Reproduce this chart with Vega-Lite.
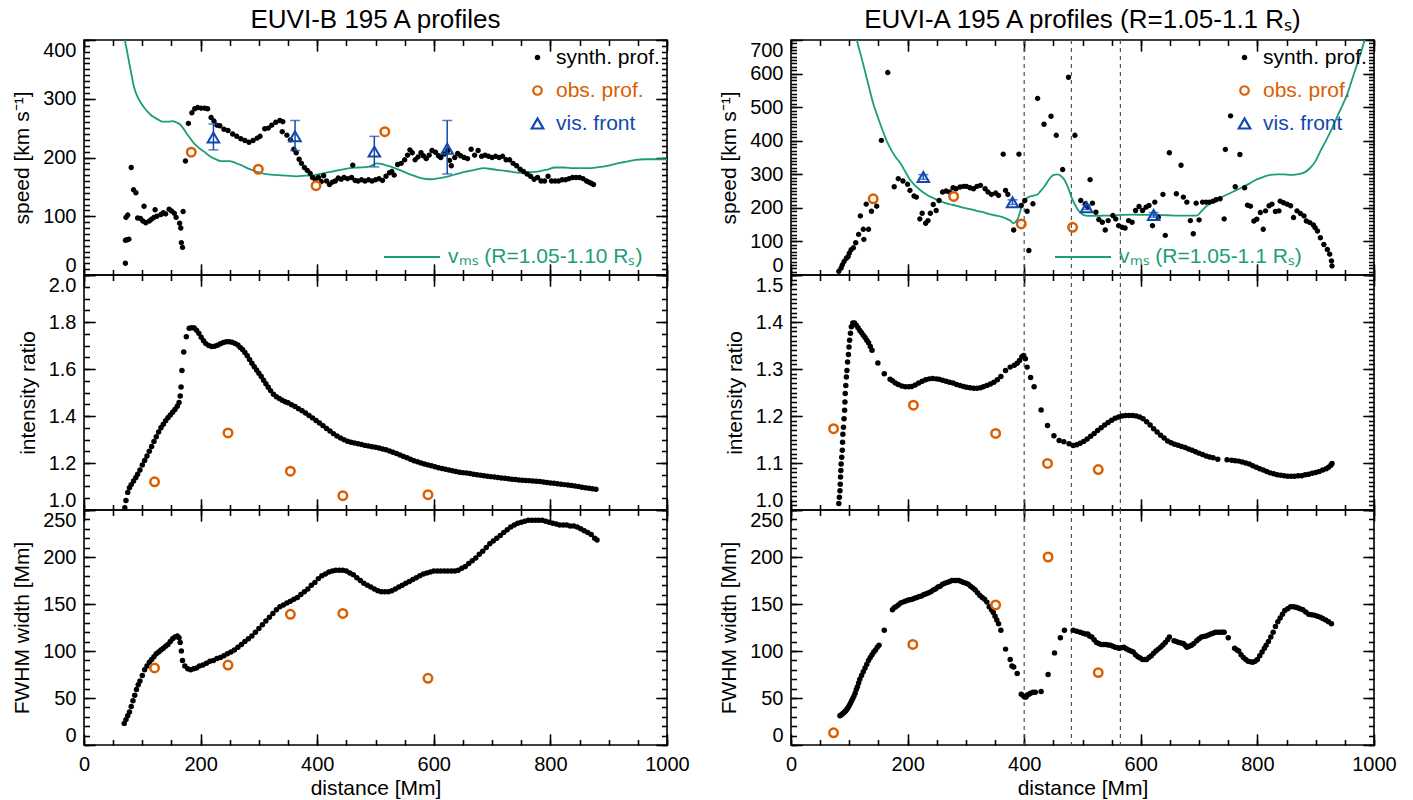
{
"$schema":"https://vega.github.io/schema/vega-lite/v6.json",
"background":"white",
"padding":{"left":10,"top":6,"right":5,"bottom":3},
"bounds":"flush",
"columns":2,
"spacing":{"row":0,"column":124},
"resolve":{"scale":{"color":"independent","fill":"independent","stroke":"independent","shape":"independent","size":"independent"},"legend":{"color":"independent","fill":"independent","stroke":"independent","shape":"independent","size":"independent"}},
"config":{
 "font":"Liberation Sans",
 "view":{"stroke":"black","strokeWidth":1.6},
 "axis":{"domain":false,"grid":false,"ticks":true,"tickOpacity":1,"zindex":1,"tickColor":"black","tickWidth":1.3,"gridColor":"black","gridWidth":1.3,"gridOpacity":1,"labelFont":"Liberation Sans","labelFontSize":20,"labelColor":"black","titleFont":"Liberation Sans","titleFontSize":21,"titleFontWeight":"normal","titleColor":"black","labelOverlap":false,"labelFlush":false},
 "legend":{"orient":"top-right","offset":7,"padding":0,"labelFont":"Liberation Sans","labelFontSize":21,"rowPadding":11,"labelOffset":8,"symbolStrokeWidth":2.2,"labelLimit":400},
 "title":{"font":"Liberation Sans","fontSize":26,"fontWeight":"normal","color":"black","offset":6,"anchor":"middle","frame":"group"}
},
"datasets":{
"bsp":[{"x":71,"y":20,"s":"synth. prof."},{"x":71,"y":59,"s":"synth. prof."},{"x":74,"y":60,"s":"synth. prof."},{"x":77,"y":61,"s":"synth. prof."},{"x":72,"y":98,"s":"synth. prof."},{"x":75,"y":102,"s":"synth. prof."},{"x":81,"y":183,"s":"synth. prof."},{"x":85,"y":145,"s":"synth. prof."},{"x":89,"y":140,"s":"synth. prof."},{"x":92,"y":97,"s":"synth. prof."},{"x":97,"y":96,"s":"synth. prof."},{"x":101,"y":92,"s":"synth. prof."},{"x":103,"y":117,"s":"synth. prof."},{"x":106,"y":89,"s":"synth. prof."},{"x":112,"y":92,"s":"synth. prof."},{"x":116,"y":95,"s":"synth. prof."},{"x":120,"y":98,"s":"synth. prof."},{"x":122,"y":111,"s":"synth. prof."},{"x":125,"y":100,"s":"synth. prof."},{"x":132,"y":103,"s":"synth. prof."},{"x":136,"y":106,"s":"synth. prof."},{"x":140,"y":104,"s":"synth. prof."},{"x":146,"y":112,"s":"synth. prof."},{"x":150,"y":109,"s":"synth. prof."},{"x":155,"y":105,"s":"synth. prof."},{"x":158,"y":98,"s":"synth. prof."},{"x":164,"y":88,"s":"synth. prof."},{"x":166,"y":80,"s":"synth. prof."},{"x":167,"y":55,"s":"synth. prof."},{"x":169,"y":47,"s":"synth. prof."},{"x":170,"y":108,"s":"synth. prof."},{"x":174,"y":194,"s":"synth. prof."},{"x":179,"y":258,"s":"synth. prof."},{"x":185,"y":276,"s":"synth. prof."},{"x":190,"y":283,"s":"synth. prof."},{"x":195,"y":285,"s":"synth. prof."},{"x":201,"y":284,"s":"synth. prof."},{"x":207,"y":284,"s":"synth. prof."},{"x":212,"y":283,"s":"synth. prof."},{"x":218,"y":268,"s":"synth. prof."},{"x":223,"y":262,"s":"synth. prof."},{"x":228,"y":255,"s":"synth. prof."},{"x":233,"y":254,"s":"synth. prof."},{"x":240,"y":248,"s":"synth. prof."},{"x":247,"y":246,"s":"synth. prof."},{"x":255,"y":240,"s":"synth. prof."},{"x":262,"y":236,"s":"synth. prof."},{"x":269,"y":232,"s":"synth. prof."},{"x":276,"y":229,"s":"synth. prof."},{"x":283,"y":226,"s":"synth. prof."},{"x":290,"y":229,"s":"synth. prof."},{"x":297,"y":233,"s":"synth. prof."},{"x":302,"y":236,"s":"synth. prof."},{"x":310,"y":249,"s":"synth. prof."},{"x":316,"y":250,"s":"synth. prof."},{"x":322,"y":255,"s":"synth. prof."},{"x":329,"y":260,"s":"synth. prof."},{"x":336,"y":263,"s":"synth. prof."},{"x":341,"y":261,"s":"synth. prof."},{"x":340,"y":244,"s":"synth. prof."},{"x":348,"y":238,"s":"synth. prof."},{"x":354,"y":230,"s":"synth. prof."},{"x":360,"y":214,"s":"synth. prof."},{"x":364,"y":208,"s":"synth. prof."},{"x":369,"y":197,"s":"synth. prof."},{"x":373,"y":190,"s":"synth. prof."},{"x":378,"y":183,"s":"synth. prof."},{"x":383,"y":178,"s":"synth. prof."},{"x":388,"y":173,"s":"synth. prof."},{"x":392,"y":166,"s":"synth. prof."},{"x":397,"y":163,"s":"synth. prof."},{"x":402,"y":166,"s":"synth. prof."},{"x":407,"y":159,"s":"synth. prof."},{"x":411,"y":169,"s":"synth. prof."},{"x":416,"y":160,"s":"synth. prof."},{"x":421,"y":154,"s":"synth. prof."},{"x":426,"y":158,"s":"synth. prof."},{"x":431,"y":160,"s":"synth. prof."},{"x":436,"y":165,"s":"synth. prof."},{"x":441,"y":163,"s":"synth. prof."},{"x":446,"y":166,"s":"synth. prof."},{"x":452,"y":164,"s":"synth. prof."},{"x":459,"y":166,"s":"synth. prof."},{"x":461,"y":187,"s":"synth. prof."},{"x":465,"y":161,"s":"synth. prof."},{"x":470,"y":160,"s":"synth. prof."},{"x":476,"y":162,"s":"synth. prof."},{"x":482,"y":160,"s":"synth. prof."},{"x":488,"y":162,"s":"synth. prof."},{"x":494,"y":160,"s":"synth. prof."},{"x":500,"y":162,"s":"synth. prof."},{"x":506,"y":164,"s":"synth. prof."},{"x":512,"y":161,"s":"synth. prof."},{"x":518,"y":168,"s":"synth. prof."},{"x":524,"y":174,"s":"synth. prof."},{"x":528,"y":176,"s":"synth. prof."},{"x":532,"y":170,"s":"synth. prof."},{"x":538,"y":188,"s":"synth. prof."},{"x":544,"y":190,"s":"synth. prof."},{"x":550,"y":196,"s":"synth. prof."},{"x":555,"y":204,"s":"synth. prof."},{"x":559,"y":213,"s":"synth. prof."},{"x":563,"y":208,"s":"synth. prof."},{"x":568,"y":196,"s":"synth. prof."},{"x":573,"y":201,"s":"synth. prof."},{"x":578,"y":208,"s":"synth. prof."},{"x":582,"y":203,"s":"synth. prof."},{"x":587,"y":198,"s":"synth. prof."},{"x":592,"y":204,"s":"synth. prof."},{"x":597,"y":212,"s":"synth. prof."},{"x":603,"y":209,"s":"synth. prof."},{"x":608,"y":203,"s":"synth. prof."},{"x":612,"y":200,"s":"synth. prof."},{"x":618,"y":206,"s":"synth. prof."},{"x":624,"y":212,"s":"synth. prof."},{"x":627,"y":195,"s":"synth. prof."},{"x":630,"y":186,"s":"synth. prof."},{"x":636,"y":200,"s":"synth. prof."},{"x":641,"y":207,"s":"synth. prof."},{"x":646,"y":203,"s":"synth. prof."},{"x":652,"y":200,"s":"synth. prof."},{"x":658,"y":198,"s":"synth. prof."},{"x":664,"y":214,"s":"synth. prof."},{"x":670,"y":204,"s":"synth. prof."},{"x":676,"y":212,"s":"synth. prof."},{"x":682,"y":202,"s":"synth. prof."},{"x":688,"y":204,"s":"synth. prof."},{"x":694,"y":202,"s":"synth. prof."},{"x":700,"y":200,"s":"synth. prof."},{"x":706,"y":202,"s":"synth. prof."},{"x":712,"y":200,"s":"synth. prof."},{"x":718,"y":202,"s":"synth. prof."},{"x":724,"y":196,"s":"synth. prof."},{"x":730,"y":196,"s":"synth. prof."},{"x":736,"y":190,"s":"synth. prof."},{"x":742,"y":186,"s":"synth. prof."},{"x":748,"y":180,"s":"synth. prof."},{"x":754,"y":176,"s":"synth. prof."},{"x":760,"y":172,"s":"synth. prof."},{"x":766,"y":168,"s":"synth. prof."},{"x":772,"y":163,"s":"synth. prof."},{"x":778,"y":166,"s":"synth. prof."},{"x":784,"y":160,"s":"synth. prof."},{"x":790,"y":160,"s":"synth. prof."},{"x":796,"y":168,"s":"synth. prof."},{"x":802,"y":160,"s":"synth. prof."},{"x":808,"y":160,"s":"synth. prof."},{"x":814,"y":160,"s":"synth. prof."},{"x":820,"y":162,"s":"synth. prof."},{"x":826,"y":162,"s":"synth. prof."},{"x":832,"y":164,"s":"synth. prof."},{"x":838,"y":166,"s":"synth. prof."},{"x":844,"y":166,"s":"synth. prof."},{"x":850,"y":166,"s":"synth. prof."},{"x":856,"y":164,"s":"synth. prof."},{"x":862,"y":160,"s":"synth. prof."},{"x":866,"y":158,"s":"synth. prof."},{"x":870,"y":156,"s":"synth. prof."},{"x":874,"y":154,"s":"synth. prof."}],
"bso":[{"x":184,"y":209,"s":"obs. prof."},{"x":299,"y":180,"s":"obs. prof."},{"x":398,"y":152,"s":"obs. prof."},{"x":516,"y":244,"s":"obs. prof."}],
"bsv":[{"x":222,"y":234,"lo":213,"hi":257,"s":"vis. front"},{"x":362,"y":236,"lo":212,"hi":263,"s":"vis. front"},{"x":498,"y":210,"lo":184,"hi":236,"s":"vis. front"},{"x":623,"y":215,"lo":172,"hi":263,"s":"vis. front"}],
"bsm":[{"x":70,"y":400},{"x":74,"y":380},{"x":78,"y":359},{"x":82,"y":338},{"x":86,"y":319},{"x":91,"y":305},{"x":97,"y":294},{"x":103,"y":285},{"x":109,"y":278},{"x":115,"y":272},{"x":121,"y":268},{"x":128,"y":264},{"x":134,"y":261},{"x":140,"y":261},{"x":146,"y":261},{"x":152,"y":262},{"x":158,"y":260},{"x":164,"y":257},{"x":170,"y":250},{"x":176,"y":241},{"x":182,"y":233},{"x":188,"y":225},{"x":194,"y":219},{"x":200,"y":214},{"x":206,"y":210},{"x":212,"y":205},{"x":218,"y":201},{"x":226,"y":197},{"x":234,"y":194},{"x":242,"y":194},{"x":250,"y":194},{"x":257,"y":192},{"x":264,"y":189},{"x":272,"y":186},{"x":280,"y":182},{"x":288,"y":179},{"x":295,"y":176},{"x":303,"y":174},{"x":310,"y":172},{"x":320,"y":171},{"x":333,"y":170},{"x":348,"y":169},{"x":364,"y":168},{"x":380,"y":169},{"x":395,"y":170},{"x":410,"y":173},{"x":425,"y":176},{"x":440,"y":179},{"x":456,"y":182},{"x":472,"y":183},{"x":487,"y":184},{"x":495,"y":187},{"x":502,"y":190},{"x":510,"y":189},{"x":517,"y":187},{"x":525,"y":185},{"x":533,"y":182},{"x":548,"y":176},{"x":563,"y":170},{"x":578,"y":165},{"x":594,"y":163},{"x":610,"y":165},{"x":625,"y":168},{"x":640,"y":172},{"x":655,"y":176},{"x":670,"y":179},{"x":686,"y":182},{"x":700,"y":180},{"x":716,"y":178},{"x":732,"y":176},{"x":747,"y":174},{"x":762,"y":175},{"x":778,"y":176},{"x":793,"y":179},{"x":808,"y":183},{"x":824,"y":183},{"x":839,"y":182},{"x":855,"y":182},{"x":870,"y":182},{"x":885,"y":184},{"x":900,"y":186},{"x":915,"y":190},{"x":931,"y":193},{"x":946,"y":196},{"x":962,"y":197},{"x":977,"y":197},{"x":992,"y":197},{"x":1000,"y":197}],
"bis":[{"x":70,"y":1.01},{"x":72,"y":1.04},{"x":75,"y":1.075},{"x":78,"y":1.095},{"x":81,"y":1.108},{"x":85,"y":1.123},{"x":89,"y":1.138},{"x":92,"y":1.152},{"x":96,"y":1.17},{"x":100,"y":1.192},{"x":104,"y":1.211},{"x":108,"y":1.23},{"x":112,"y":1.25},{"x":116,"y":1.27},{"x":120,"y":1.292},{"x":124,"y":1.312},{"x":128,"y":1.332},{"x":132,"y":1.35},{"x":136,"y":1.365},{"x":140,"y":1.38},{"x":144,"y":1.393},{"x":148,"y":1.404},{"x":152,"y":1.416},{"x":156,"y":1.428},{"x":160,"y":1.442},{"x":163,"y":1.457},{"x":165,"y":1.485},{"x":166.5,"y":1.523},{"x":168,"y":1.594},{"x":171,"y":1.672},{"x":175.5,"y":1.737},{"x":180.5,"y":1.773},{"x":185,"y":1.776},{"x":189,"y":1.774},{"x":193,"y":1.765},{"x":197,"y":1.752},{"x":201,"y":1.735},{"x":205,"y":1.72},{"x":209,"y":1.708},{"x":214,"y":1.7},{"x":219,"y":1.696},{"x":224,"y":1.697},{"x":229,"y":1.701},{"x":234,"y":1.707},{"x":239,"y":1.713},{"x":244,"y":1.716},{"x":249,"y":1.716},{"x":254,"y":1.714},{"x":259,"y":1.709},{"x":264,"y":1.702},{"x":268,"y":1.692},{"x":272,"y":1.683},{"x":276,"y":1.67},{"x":280,"y":1.656},{"x":284,"y":1.64},{"x":288,"y":1.624},{"x":292,"y":1.61},{"x":296,"y":1.596},{"x":300,"y":1.582},{"x":304,"y":1.568},{"x":308,"y":1.552},{"x":312,"y":1.537},{"x":316,"y":1.522},{"x":320,"y":1.508},{"x":325,"y":1.493},{"x":330,"y":1.482},{"x":335,"y":1.474},{"x":340,"y":1.467},{"x":345,"y":1.461},{"x":350,"y":1.456},{"x":356,"y":1.448},{"x":362,"y":1.44},{"x":368,"y":1.431},{"x":374,"y":1.422},{"x":380,"y":1.413},{"x":386,"y":1.402},{"x":392,"y":1.392},{"x":398,"y":1.381},{"x":404,"y":1.37},{"x":410,"y":1.359},{"x":416,"y":1.347},{"x":422,"y":1.336},{"x":428,"y":1.325},{"x":434,"y":1.315},{"x":440,"y":1.306},{"x":446,"y":1.299},{"x":452,"y":1.293},{"x":458,"y":1.288},{"x":464,"y":1.285},{"x":470,"y":1.282},{"x":476,"y":1.279},{"x":482,"y":1.275},{"x":488,"y":1.272},{"x":494,"y":1.269},{"x":500,"y":1.267},{"x":506,"y":1.264},{"x":512,"y":1.26},{"x":518,"y":1.256},{"x":524,"y":1.251},{"x":530,"y":1.246},{"x":536,"y":1.24},{"x":542,"y":1.234},{"x":548,"y":1.228},{"x":554,"y":1.222},{"x":560,"y":1.216},{"x":566,"y":1.21},{"x":572,"y":1.205},{"x":578,"y":1.2},{"x":584,"y":1.196},{"x":590,"y":1.192},{"x":596,"y":1.188},{"x":602,"y":1.184},{"x":608,"y":1.18},{"x":614,"y":1.177},{"x":620,"y":1.173},{"x":626,"y":1.17},{"x":632,"y":1.167},{"x":638,"y":1.164},{"x":644,"y":1.161},{"x":650,"y":1.159},{"x":656,"y":1.157},{"x":662,"y":1.155},{"x":668,"y":1.152},{"x":674,"y":1.15},{"x":680,"y":1.148},{"x":686,"y":1.146},{"x":692,"y":1.144},{"x":698,"y":1.142},{"x":704,"y":1.14},{"x":710,"y":1.138},{"x":716,"y":1.136},{"x":722,"y":1.135},{"x":728,"y":1.133},{"x":734,"y":1.131},{"x":740,"y":1.13},{"x":746,"y":1.128},{"x":752,"y":1.127},{"x":758,"y":1.126},{"x":764,"y":1.125},{"x":770,"y":1.123},{"x":776,"y":1.122},{"x":782,"y":1.121},{"x":788,"y":1.119},{"x":794,"y":1.117},{"x":800,"y":1.115},{"x":806,"y":1.114},{"x":812,"y":1.112},{"x":818,"y":1.11},{"x":824,"y":1.108},{"x":830,"y":1.106},{"x":836,"y":1.104},{"x":842,"y":1.102},{"x":848,"y":1.1},{"x":854,"y":1.097},{"x":860,"y":1.095},{"x":866,"y":1.093},{"x":872,"y":1.09},{"x":878,"y":1.088}],
"bio":[{"x":121,"y":1.12},{"x":247,"y":1.328},{"x":354,"y":1.165},{"x":444,"y":1.061},{"x":590,"y":1.065}],
"bws":[{"x":69,"y":23},{"x":72,"y":27},{"x":75,"y":31},{"x":78,"y":35},{"x":81,"y":41},{"x":84,"y":47},{"x":87,"y":53},{"x":90,"y":59},{"x":93,"y":64},{"x":96,"y":68},{"x":100,"y":74},{"x":104,"y":80},{"x":108,"y":84},{"x":112,"y":88},{"x":116,"y":91},{"x":120,"y":94},{"x":124,"y":97},{"x":128,"y":99},{"x":132,"y":101},{"x":136,"y":103},{"x":140,"y":105},{"x":144,"y":107},{"x":148,"y":110},{"x":152,"y":113},{"x":156,"y":115},{"x":160,"y":116},{"x":163,"y":114},{"x":165,"y":109},{"x":167,"y":100},{"x":169,"y":90},{"x":173,"y":84},{"x":178,"y":81},{"x":183,"y":80},{"x":188,"y":81},{"x":193,"y":82},{"x":198,"y":84},{"x":204,"y":85},{"x":210,"y":87},{"x":216,"y":89},{"x":222,"y":90},{"x":228,"y":92},{"x":234,"y":93},{"x":240,"y":95},{"x":246,"y":97},{"x":252,"y":99},{"x":258,"y":101},{"x":264,"y":104},{"x":270,"y":107},{"x":276,"y":110},{"x":282,"y":113},{"x":288,"y":116},{"x":294,"y":120},{"x":300,"y":124},{"x":306,"y":128},{"x":312,"y":132},{"x":318,"y":136},{"x":324,"y":140},{"x":330,"y":144},{"x":336,"y":147},{"x":342,"y":149},{"x":348,"y":151},{"x":354,"y":153},{"x":360,"y":155},{"x":366,"y":157},{"x":372,"y":160},{"x":378,"y":163},{"x":384,"y":166},{"x":390,"y":170},{"x":396,"y":173},{"x":402,"y":177},{"x":408,"y":180},{"x":414,"y":182},{"x":420,"y":184},{"x":426,"y":185},{"x":432,"y":186},{"x":438,"y":186},{"x":444,"y":186},{"x":450,"y":185},{"x":456,"y":183},{"x":462,"y":181},{"x":468,"y":178},{"x":474,"y":175},{"x":480,"y":172},{"x":486,"y":170},{"x":492,"y":168},{"x":498,"y":166},{"x":504,"y":164},{"x":510,"y":163},{"x":516,"y":163},{"x":522,"y":163},{"x":528,"y":164},{"x":534,"y":166},{"x":540,"y":168},{"x":546,"y":170},{"x":552,"y":172},{"x":558,"y":174},{"x":564,"y":176},{"x":570,"y":178},{"x":576,"y":180},{"x":582,"y":182},{"x":588,"y":183},{"x":594,"y":184},{"x":600,"y":185},{"x":606,"y":185},{"x":612,"y":185},{"x":618,"y":185},{"x":624,"y":185},{"x":630,"y":185},{"x":636,"y":185},{"x":642,"y":186},{"x":648,"y":188},{"x":654,"y":190},{"x":660,"y":193},{"x":666,"y":196},{"x":672,"y":199},{"x":678,"y":203},{"x":684,"y":206},{"x":690,"y":210},{"x":696,"y":214},{"x":702,"y":217},{"x":708,"y":220},{"x":714,"y":223},{"x":720,"y":226},{"x":726,"y":229},{"x":732,"y":232},{"x":738,"y":234},{"x":744,"y":236},{"x":750,"y":237},{"x":756,"y":238},{"x":762,"y":239},{"x":768,"y":239},{"x":774,"y":239},{"x":780,"y":239},{"x":786,"y":239},{"x":792,"y":238},{"x":798,"y":237},{"x":804,"y":236},{"x":810,"y":235},{"x":816,"y":234},{"x":822,"y":234},{"x":828,"y":234},{"x":834,"y":233},{"x":840,"y":233},{"x":846,"y":232},{"x":852,"y":230},{"x":858,"y":228},{"x":864,"y":226},{"x":870,"y":224},{"x":876,"y":220},{"x":880,"y":218}],
"bwo":[{"x":121,"y":82},{"x":247,"y":85},{"x":354,"y":139},{"x":444,"y":140},{"x":590,"y":71}],
"asp":[{"x":82,"y":11,"s":"synth. prof."},{"x":86,"y":21,"s":"synth. prof."},{"x":88,"y":30,"s":"synth. prof."},{"x":91,"y":40,"s":"synth. prof."},{"x":95,"y":50,"s":"synth. prof."},{"x":98,"y":55,"s":"synth. prof."},{"x":100,"y":65,"s":"synth. prof."},{"x":103,"y":75,"s":"synth. prof."},{"x":107,"y":81,"s":"synth. prof."},{"x":111,"y":96,"s":"synth. prof."},{"x":116,"y":121,"s":"synth. prof."},{"x":119,"y":176,"s":"synth. prof."},{"x":124,"y":136,"s":"synth. prof."},{"x":125,"y":106,"s":"synth. prof."},{"x":129,"y":211,"s":"synth. prof."},{"x":133,"y":136,"s":"synth. prof."},{"x":138,"y":190,"s":"synth. prof."},{"x":147,"y":205,"s":"synth. prof."},{"x":155,"y":401,"s":"synth. prof."},{"x":166,"y":603,"s":"synth. prof."},{"x":177,"y":263,"s":"synth. prof."},{"x":184,"y":287,"s":"synth. prof."},{"x":192,"y":280,"s":"synth. prof."},{"x":200,"y":270,"s":"synth. prof."},{"x":204,"y":252,"s":"synth. prof."},{"x":211,"y":235,"s":"synth. prof."},{"x":215,"y":232,"s":"synth. prof."},{"x":221,"y":167,"s":"synth. prof."},{"x":225,"y":184,"s":"synth. prof."},{"x":231,"y":154,"s":"synth. prof."},{"x":235,"y":162,"s":"synth. prof."},{"x":239,"y":184,"s":"synth. prof."},{"x":244,"y":210,"s":"synth. prof."},{"x":249,"y":192,"s":"synth. prof."},{"x":254,"y":222,"s":"synth. prof."},{"x":260,"y":247,"s":"synth. prof."},{"x":266,"y":250,"s":"synth. prof."},{"x":272,"y":247,"s":"synth. prof."},{"x":278,"y":260,"s":"synth. prof."},{"x":283,"y":257,"s":"synth. prof."},{"x":290,"y":262,"s":"synth. prof."},{"x":296,"y":264,"s":"synth. prof."},{"x":301,"y":264,"s":"synth. prof."},{"x":307,"y":260,"s":"synth. prof."},{"x":313,"y":257,"s":"synth. prof."},{"x":319,"y":264,"s":"synth. prof."},{"x":325,"y":267,"s":"synth. prof."},{"x":333,"y":257,"s":"synth. prof."},{"x":338,"y":247,"s":"synth. prof."},{"x":344,"y":240,"s":"synth. prof."},{"x":351,"y":244,"s":"synth. prof."},{"x":356,"y":237,"s":"synth. prof."},{"x":364,"y":360,"s":"synth. prof."},{"x":368,"y":252,"s":"synth. prof."},{"x":372,"y":240,"s":"synth. prof."},{"x":382,"y":134,"s":"synth. prof."},{"x":391,"y":360,"s":"synth. prof."},{"x":395,"y":207,"s":"synth. prof."},{"x":401,"y":222,"s":"synth. prof."},{"x":405,"y":190,"s":"synth. prof."},{"x":408,"y":73,"s":"synth. prof."},{"x":415,"y":212,"s":"synth. prof."},{"x":423,"y":526,"s":"synth. prof."},{"x":434,"y":449,"s":"synth. prof."},{"x":446,"y":473,"s":"synth. prof."},{"x":455,"y":416,"s":"synth. prof."},{"x":466,"y":314,"s":"synth. prof."},{"x":476,"y":589,"s":"synth. prof."},{"x":487,"y":416,"s":"synth. prof."},{"x":497,"y":222,"s":"synth. prof."},{"x":505,"y":212,"s":"synth. prof."},{"x":509,"y":202,"s":"synth. prof."},{"x":513,"y":284,"s":"synth. prof."},{"x":517,"y":214,"s":"synth. prof."},{"x":523,"y":187,"s":"synth. prof."},{"x":528,"y":165,"s":"synth. prof."},{"x":534,"y":157,"s":"synth. prof."},{"x":539,"y":134,"s":"synth. prof."},{"x":544,"y":162,"s":"synth. prof."},{"x":552,"y":177,"s":"synth. prof."},{"x":557,"y":167,"s":"synth. prof."},{"x":562,"y":147,"s":"synth. prof."},{"x":568,"y":142,"s":"synth. prof."},{"x":573,"y":140,"s":"synth. prof."},{"x":579,"y":162,"s":"synth. prof."},{"x":585,"y":157,"s":"synth. prof."},{"x":591,"y":192,"s":"synth. prof."},{"x":597,"y":204,"s":"synth. prof."},{"x":603,"y":192,"s":"synth. prof."},{"x":609,"y":202,"s":"synth. prof."},{"x":614,"y":207,"s":"synth. prof."},{"x":620,"y":147,"s":"synth. prof."},{"x":624,"y":217,"s":"synth. prof."},{"x":630,"y":172,"s":"synth. prof."},{"x":638,"y":240,"s":"synth. prof."},{"x":642,"y":118,"s":"synth. prof."},{"x":649,"y":364,"s":"synth. prof."},{"x":661,"y":242,"s":"synth. prof."},{"x":669,"y":327,"s":"synth. prof."},{"x":673,"y":232,"s":"synth. prof."},{"x":679,"y":217,"s":"synth. prof."},{"x":685,"y":162,"s":"synth. prof."},{"x":690,"y":123,"s":"synth. prof."},{"x":695,"y":214,"s":"synth. prof."},{"x":700,"y":164,"s":"synth. prof."},{"x":706,"y":217,"s":"synth. prof."},{"x":712,"y":217,"s":"synth. prof."},{"x":718,"y":217,"s":"synth. prof."},{"x":724,"y":220,"s":"synth. prof."},{"x":729,"y":224,"s":"synth. prof."},{"x":736,"y":227,"s":"synth. prof."},{"x":743,"y":167,"s":"synth. prof."},{"x":745,"y":374,"s":"synth. prof."},{"x":754,"y":474,"s":"synth. prof."},{"x":762,"y":263,"s":"synth. prof."},{"x":770,"y":359,"s":"synth. prof."},{"x":778,"y":260,"s":"synth. prof."},{"x":783,"y":208,"s":"synth. prof."},{"x":788,"y":205,"s":"synth. prof."},{"x":794,"y":161,"s":"synth. prof."},{"x":799,"y":166,"s":"synth. prof."},{"x":805,"y":186,"s":"synth. prof."},{"x":810,"y":136,"s":"synth. prof."},{"x":814,"y":191,"s":"synth. prof."},{"x":820,"y":206,"s":"synth. prof."},{"x":825,"y":211,"s":"synth. prof."},{"x":831,"y":189,"s":"synth. prof."},{"x":837,"y":191,"s":"synth. prof."},{"x":839,"y":220,"s":"synth. prof."},{"x":845,"y":215,"s":"synth. prof."},{"x":851,"y":211,"s":"synth. prof."},{"x":857,"y":206,"s":"synth. prof."},{"x":862,"y":171,"s":"synth. prof."},{"x":868,"y":191,"s":"synth. prof."},{"x":874,"y":183,"s":"synth. prof."},{"x":880,"y":176,"s":"synth. prof."},{"x":884,"y":161,"s":"synth. prof."},{"x":890,"y":156,"s":"synth. prof."},{"x":896,"y":149,"s":"synth. prof."},{"x":899,"y":141,"s":"synth. prof."},{"x":903,"y":131,"s":"synth. prof."},{"x":908,"y":111,"s":"synth. prof."},{"x":914,"y":91,"s":"synth. prof."},{"x":920,"y":76,"s":"synth. prof."},{"x":924,"y":62,"s":"synth. prof."},{"x":927,"y":42,"s":"synth. prof."},{"x":928,"y":27,"s":"synth. prof."}],
"aso":[{"x":141,"y":227,"s":"obs. prof."},{"x":279,"y":234,"s":"obs. prof."},{"x":395,"y":152,"s":"obs. prof."},{"x":483,"y":142,"s":"obs. prof."}],
"asv":[{"x":227,"y":292,"lo":285,"hi":299,"s":"vis. front"},{"x":380,"y":217,"lo":210,"hi":224,"s":"vis. front"},{"x":507,"y":202,"lo":195,"hi":209,"s":"vis. front"},{"x":622,"y":179,"lo":172,"hi":186,"s":"vis. front"}],
"asm":[{"x":110,"y":730},{"x":113,"y":700},{"x":119,"y":660},{"x":125,"y":620},{"x":133,"y":565},{"x":141,"y":511},{"x":149,"y":470},{"x":157,"y":431},{"x":164,"y":400},{"x":172,"y":372},{"x":180,"y":350},{"x":188,"y":332},{"x":196,"y":308},{"x":203,"y":287},{"x":211,"y":270},{"x":219,"y":257},{"x":227,"y":246},{"x":235,"y":237},{"x":243,"y":230},{"x":250,"y":224},{"x":258,"y":219},{"x":266,"y":214},{"x":274,"y":210},{"x":282,"y":207},{"x":290,"y":203},{"x":297,"y":200},{"x":305,"y":197},{"x":313,"y":194},{"x":321,"y":190},{"x":329,"y":187},{"x":337,"y":183},{"x":344,"y":180},{"x":352,"y":177},{"x":360,"y":174},{"x":368,"y":169},{"x":376,"y":162},{"x":382,"y":154},{"x":386,"y":160},{"x":390,"y":172},{"x":394,"y":195},{"x":397,"y":212},{"x":402,"y":225},{"x":407,"y":232},{"x":415,"y":236},{"x":423,"y":240},{"x":428,"y":250},{"x":434,"y":262},{"x":440,"y":278},{"x":446,"y":292},{"x":451,"y":298},{"x":457,"y":300},{"x":463,"y":295},{"x":469,"y":284},{"x":475,"y":262},{"x":481,"y":232},{"x":487,"y":210},{"x":493,"y":192},{"x":499,"y":182},{"x":505,"y":177},{"x":515,"y":176},{"x":524,"y":176},{"x":536,"y":177},{"x":548,"y":177},{"x":568,"y":179},{"x":587,"y":180},{"x":606,"y":179},{"x":626,"y":179},{"x":645,"y":178},{"x":665,"y":177},{"x":680,"y":177},{"x":696,"y":177},{"x":704,"y":190},{"x":712,"y":204},{"x":720,"y":214},{"x":728,"y":224},{"x":740,"y":233},{"x":751,"y":242},{"x":763,"y":252},{"x":775,"y":262},{"x":787,"y":273},{"x":798,"y":284},{"x":810,"y":292},{"x":822,"y":298},{"x":834,"y":300},{"x":845,"y":300},{"x":857,"y":298},{"x":868,"y":300},{"x":880,"y":305},{"x":890,"y":318},{"x":900,"y":340},{"x":908,"y":369},{"x":917,"y":398},{"x":926,"y":429},{"x":940,"y":484},{"x":954,"y":538},{"x":962,"y":580},{"x":971,"y":628},{"x":978,"y":665},{"x":984,"y":700},{"x":990,"y":735}],
"ais":[{"x":82,"y":1.014},{"x":83,"y":1.027},{"x":84,"y":1.041},{"x":84.5,"y":1.055},{"x":85,"y":1.07},{"x":85.5,"y":1.084},{"x":86,"y":1.098},{"x":87,"y":1.112},{"x":88,"y":1.127},{"x":88.5,"y":1.144},{"x":89,"y":1.161},{"x":90,"y":1.176},{"x":91,"y":1.194},{"x":92,"y":1.212},{"x":92.5,"y":1.23},{"x":93,"y":1.248},{"x":94,"y":1.265},{"x":95,"y":1.283},{"x":96,"y":1.297},{"x":97,"y":1.315},{"x":98.5,"y":1.331},{"x":99.5,"y":1.347},{"x":100.5,"y":1.361},{"x":102,"y":1.376},{"x":103.5,"y":1.39},{"x":106,"y":1.398},{"x":109,"y":1.398},{"x":112,"y":1.393},{"x":115,"y":1.388},{"x":118,"y":1.382},{"x":121,"y":1.377},{"x":124,"y":1.372},{"x":127,"y":1.367},{"x":130,"y":1.361},{"x":133,"y":1.356},{"x":136,"y":1.348},{"x":139,"y":1.34},{"x":149,"y":1.313},{"x":160,"y":1.29},{"x":170,"y":1.278},{"x":174,"y":1.275},{"x":179,"y":1.27},{"x":184,"y":1.267},{"x":190,"y":1.264},{"x":196,"y":1.262},{"x":202,"y":1.262},{"x":207,"y":1.263},{"x":213,"y":1.266},{"x":219,"y":1.27},{"x":225,"y":1.274},{"x":231,"y":1.277},{"x":237,"y":1.279},{"x":243,"y":1.28},{"x":249,"y":1.279},{"x":254,"y":1.278},{"x":260,"y":1.276},{"x":266,"y":1.274},{"x":272,"y":1.272},{"x":278,"y":1.27},{"x":284,"y":1.267},{"x":290,"y":1.265},{"x":296,"y":1.263},{"x":301,"y":1.261},{"x":307,"y":1.26},{"x":313,"y":1.259},{"x":319,"y":1.259},{"x":325,"y":1.26},{"x":330,"y":1.262},{"x":336,"y":1.265},{"x":342,"y":1.268},{"x":348,"y":1.272},{"x":354,"y":1.277},{"x":360,"y":1.284},{"x":368,"y":1.297},{"x":376,"y":1.304},{"x":383,"y":1.308},{"x":388,"y":1.312},{"x":392,"y":1.318},{"x":396,"y":1.326},{"x":399,"y":1.329},{"x":402,"y":1.322},{"x":405,"y":1.304},{"x":411,"y":1.282},{"x":417,"y":1.262},{"x":429,"y":1.213},{"x":440,"y":1.18},{"x":451,"y":1.158},{"x":460,"y":1.148},{"x":468,"y":1.145},{"x":477,"y":1.141},{"x":484,"y":1.137},{"x":490,"y":1.139},{"x":496,"y":1.142},{"x":502,"y":1.146},{"x":508,"y":1.151},{"x":514,"y":1.157},{"x":520,"y":1.163},{"x":526,"y":1.169},{"x":532,"y":1.175},{"x":538,"y":1.181},{"x":544,"y":1.186},{"x":550,"y":1.191},{"x":556,"y":1.195},{"x":562,"y":1.198},{"x":568,"y":1.2},{"x":574,"y":1.201},{"x":580,"y":1.201},{"x":586,"y":1.201},{"x":592,"y":1.2},{"x":598,"y":1.198},{"x":604,"y":1.194},{"x":610,"y":1.188},{"x":616,"y":1.181},{"x":622,"y":1.173},{"x":628,"y":1.166},{"x":634,"y":1.159},{"x":640,"y":1.153},{"x":646,"y":1.147},{"x":652,"y":1.143},{"x":658,"y":1.14},{"x":664,"y":1.138},{"x":670,"y":1.135},{"x":676,"y":1.133},{"x":682,"y":1.13},{"x":688,"y":1.127},{"x":694,"y":1.124},{"x":700,"y":1.121},{"x":706,"y":1.118},{"x":712,"y":1.115},{"x":718,"y":1.113},{"x":724,"y":1.111},{"x":732,"y":1.108},{"x":748,"y":1.107},{"x":756,"y":1.106},{"x":762,"y":1.105},{"x":768,"y":1.104},{"x":774,"y":1.102},{"x":780,"y":1.1},{"x":786,"y":1.098},{"x":792,"y":1.094},{"x":798,"y":1.091},{"x":804,"y":1.088},{"x":810,"y":1.085},{"x":816,"y":1.082},{"x":822,"y":1.079},{"x":828,"y":1.077},{"x":834,"y":1.075},{"x":840,"y":1.074},{"x":846,"y":1.073},{"x":852,"y":1.072},{"x":858,"y":1.072},{"x":864,"y":1.072},{"x":870,"y":1.073},{"x":876,"y":1.073},{"x":882,"y":1.075},{"x":888,"y":1.076},{"x":894,"y":1.078},{"x":900,"y":1.08},{"x":906,"y":1.082},{"x":912,"y":1.085},{"x":918,"y":1.088},{"x":922,"y":1.091},{"x":926,"y":1.095},{"x":928,"y":1.099}],
"aio":[{"x":73,"y":1.173},{"x":210,"y":1.223},{"x":351,"y":1.163},{"x":440,"y":1.099},{"x":527,"y":1.086}],
"aws":[{"x":84,"y":31},{"x":86,"y":32},{"x":88,"y":33},{"x":90,"y":34},{"x":92,"y":35},{"x":94,"y":36.5},{"x":96,"y":38},{"x":98,"y":40},{"x":100,"y":42},{"x":102,"y":44.5},{"x":104,"y":47},{"x":106,"y":49.5},{"x":108,"y":52},{"x":110,"y":55},{"x":112,"y":59},{"x":114,"y":62},{"x":116,"y":66},{"x":118,"y":70},{"x":121,"y":74},{"x":124,"y":78},{"x":127,"y":82},{"x":130,"y":86},{"x":133,"y":90},{"x":136,"y":93},{"x":139,"y":96},{"x":142,"y":99},{"x":145,"y":101},{"x":148,"y":104},{"x":151,"y":106},{"x":160,"y":122},{"x":174,"y":144},{"x":177,"y":146},{"x":180,"y":147},{"x":184,"y":149},{"x":188,"y":151},{"x":192,"y":152},{"x":196,"y":153},{"x":200,"y":154},{"x":204,"y":154.5},{"x":208,"y":155},{"x":212,"y":156},{"x":216,"y":157},{"x":220,"y":158},{"x":224,"y":158.5},{"x":228,"y":160},{"x":232,"y":161},{"x":236,"y":162},{"x":240,"y":163},{"x":244,"y":165},{"x":248,"y":166},{"x":252,"y":168},{"x":256,"y":169},{"x":260,"y":171},{"x":264,"y":172},{"x":268,"y":173},{"x":272,"y":174},{"x":276,"y":175},{"x":280,"y":175},{"x":284,"y":175},{"x":288,"y":175},{"x":292,"y":174},{"x":296,"y":173},{"x":300,"y":172},{"x":304,"y":171},{"x":308,"y":169},{"x":312,"y":167},{"x":316,"y":165},{"x":320,"y":162},{"x":324,"y":159},{"x":328,"y":157},{"x":332,"y":155},{"x":336,"y":152},{"x":340,"y":147},{"x":344,"y":144},{"x":347,"y":141},{"x":350,"y":137},{"x":353,"y":133},{"x":356,"y":129},{"x":360,"y":122},{"x":368,"y":102},{"x":376,"y":91},{"x":379,"y":84},{"x":382,"y":83},{"x":388,"y":76},{"x":395,"y":54},{"x":399,"y":52},{"x":401,"y":51},{"x":403,"y":51},{"x":405,"y":53},{"x":408,"y":54},{"x":411,"y":55},{"x":415,"y":56},{"x":419,"y":56},{"x":429,"y":57},{"x":441,"y":75},{"x":452,"y":98},{"x":462,"y":114},{"x":469,"y":122},{"x":484,"y":122},{"x":490,"y":121},{"x":496,"y":120},{"x":501,"y":119},{"x":505,"y":118},{"x":509,"y":118},{"x":512,"y":116},{"x":516,"y":115},{"x":520,"y":112},{"x":524,"y":109},{"x":528,"y":108},{"x":532,"y":107},{"x":536,"y":107},{"x":540,"y":107},{"x":544,"y":106.5},{"x":548,"y":106},{"x":552,"y":105},{"x":556,"y":104},{"x":560,"y":103.5},{"x":563,"y":103},{"x":567,"y":103.5},{"x":571,"y":104},{"x":575,"y":102.5},{"x":579,"y":101},{"x":583,"y":100},{"x":587,"y":99},{"x":591,"y":96},{"x":595,"y":94},{"x":599,"y":92.5},{"x":603,"y":91},{"x":607,"y":91},{"x":610,"y":91},{"x":614,"y":93},{"x":618,"y":95},{"x":622,"y":97.5},{"x":626,"y":100},{"x":630,"y":102},{"x":634,"y":104},{"x":638,"y":106.5},{"x":642,"y":109},{"x":646,"y":112},{"x":649,"y":115},{"x":657,"y":111},{"x":661,"y":110},{"x":665,"y":109},{"x":669,"y":108.5},{"x":673,"y":108},{"x":676,"y":106},{"x":679,"y":104},{"x":683,"y":105},{"x":687,"y":106},{"x":691,"y":108},{"x":696,"y":111},{"x":700,"y":113},{"x":704,"y":115},{"x":708,"y":115.5},{"x":712,"y":116},{"x":716,"y":117},{"x":720,"y":118},{"x":724,"y":119},{"x":728,"y":120},{"x":732,"y":120},{"x":736,"y":120},{"x":740,"y":120},{"x":743,"y":120},{"x":750,"y":114},{"x":761,"y":103},{"x":765,"y":101},{"x":768,"y":100},{"x":772,"y":96},{"x":776,"y":93},{"x":780,"y":91},{"x":784,"y":89},{"x":788,"y":88.5},{"x":792,"y":88},{"x":796,"y":89},{"x":800,"y":91},{"x":804,"y":95},{"x":808,"y":99},{"x":812,"y":103},{"x":815,"y":106},{"x":819,"y":110},{"x":823,"y":115},{"x":827,"y":120},{"x":831,"y":126},{"x":835,"y":131},{"x":839,"y":135},{"x":843,"y":139},{"x":847,"y":143},{"x":852,"y":145},{"x":857,"y":147},{"x":862,"y":147},{"x":866,"y":146.5},{"x":869,"y":146},{"x":873,"y":145},{"x":878,"y":144},{"x":883,"y":141.5},{"x":888,"y":139},{"x":893,"y":138.5},{"x":898,"y":138},{"x":903,"y":137},{"x":908,"y":136},{"x":912,"y":134.5},{"x":917,"y":133},{"x":922,"y":131},{"x":927,"y":129}],
"awo":[{"x":73,"y":13},{"x":209,"y":107},{"x":351,"y":149},{"x":441,"y":200},{"x":527,"y":77}],
"dash":[{"x":400},{"x":481},{"x":565}]
},
"concat":[
{"width":583,"height":235,"title":"EUVI-B 195 A profiles","resolve":{"axis":{"x":"independent","y":"independent"}},
"layer":[
{"data":{"values":[]},"mark":"point","encoding":{"x":{"field":"x","type":"quantitative","scale":{"domain":[0,1000],"nice":false,"zero":false},"axis":{"orient":"bottom","values":[0,200,400,600,800,1000],"offset":-11,"tickSize":11,"grid":true,"gridDash":[11,3000],"labels":false,"title":null}},"y":{"field":"y","type":"quantitative","scale":{"domain":[0,400],"nice":false},"axis":{"orient":"left","values":[0,100,200,300,400],"offset":-11,"tickSize":11,"grid":true,"gridDash":[11,3000],"labelPadding":8,"labelFlush":true,"title":"speed [km s⁻¹]","titlePadding":10}}}},
{"data":{"values":[]},"mark":"point","encoding":{"x":{"field":"x","type":"quantitative","scale":{"domain":[0,1000],"nice":false,"zero":false},"axis":{"orient":"bottom","values":[0,50,100,150,200,250,300,350,400,450,500,550,600,650,700,750,800,850,900,950,1000],"offset":-5.5,"tickSize":5.5,"grid":true,"gridDash":[5.5,3000],"labels":false,"title":null}},"y":{"field":"y","type":"quantitative","scale":{"domain":[0,400],"nice":false},"axis":{"orient":"left","values":[0,10,20,30,40,50,60,70,80,90,100,110,120,130,140,150,160,170,180,190,200,210,220,230,240,250,260,270,280,290,300,310,320,330,340,350,360,370,380,390,400],"offset":-5.5,"tickSize":5.5,"grid":true,"gridDash":[5.5,3000],"labels":false,"title":null}}}},
{"data":{"values":[]},"mark":"point","encoding":{"x":{"field":"x","type":"quantitative","scale":{"domain":[0,1000],"nice":false,"zero":false},"axis":{"orient":"top","values":[0,200,400,600,800,1000],"offset":-11,"tickSize":11,"grid":true,"gridDash":[11,3000],"labels":false,"title":null}},"y":{"field":"y","type":"quantitative","scale":{"domain":[0,400],"nice":false},"axis":{"orient":"right","values":[0,100,200,300,400],"offset":-11,"tickSize":11,"grid":true,"gridDash":[11,3000],"labels":false,"title":null}}}},
{"data":{"values":[]},"mark":"point","encoding":{"x":{"field":"x","type":"quantitative","scale":{"domain":[0,1000],"nice":false,"zero":false},"axis":{"orient":"top","values":[0,50,100,150,200,250,300,350,400,450,500,550,600,650,700,750,800,850,900,950,1000],"offset":-5.5,"tickSize":5.5,"grid":true,"gridDash":[5.5,3000],"labels":false,"title":null}},"y":{"field":"y","type":"quantitative","scale":{"domain":[0,400],"nice":false},"axis":{"orient":"right","values":[0,10,20,30,40,50,60,70,80,90,100,110,120,130,140,150,160,170,180,190,200,210,220,230,240,250,260,270,280,290,300,310,320,330,340,350,360,370,380,390,400],"offset":-5.5,"tickSize":5.5,"grid":true,"gridDash":[5.5,3000],"labels":false,"title":null}}}},
{"data":{"name":"bsm"},"mark":{"type":"line","strokeWidth":1.8,"clip":true,"interpolate":"monotone"},"encoding":{"x":{"field":"x","type":"quantitative","scale":{"domain":[0,1000],"nice":false,"zero":false},"axis":null},"y":{"field":"y","type":"quantitative","scale":{"domain":[0,400],"nice":false},"axis":null},"color":{"datum":"vₘₛ (R=1.05-1.10 Rₛ)","type":"nominal","scale":{"range":["#1b9e77"]},"legend":{"orient":"none","legendX":299,"legendY":188,"title":null,"labelColor":"#1b9e77","symbolSize":3136,"symbolStrokeWidth":2,"labelOffset":7}}}},
{"data":{"name":"bsp"},"mark":{"type":"point","opacity":1,"strokeWidth":2},"encoding":{"x":{"field":"x","type":"quantitative","scale":{"domain":[0,1000],"nice":false,"zero":false},"axis":null},"y":{"field":"y","type":"quantitative","scale":{"domain":[0,400],"nice":false},"axis":null},
 "fill":{"field":"s","type":"nominal","scale":{"domain":["synth. prof.","obs. prof.","vis. front"],"range":["black","transparent","transparent"]},"legend":{"title":null,"encoding":{"labels":{"fill":{"condition":[{"test":"datum.label == 'obs. prof.'","value":"#d95f02"},{"test":"datum.label == 'vis. front'","value":"#1048b0"}],"value":"black"}}}}},
 "stroke":{"field":"s","type":"nominal","scale":{"domain":["synth. prof.","obs. prof.","vis. front"],"range":["black","#d95f02","#1048b0"]},"legend":{"title":null}},
 "shape":{"field":"s","type":"nominal","scale":{"domain":["synth. prof.","obs. prof.","vis. front"],"range":["circle","circle","triangle-up"]},"legend":{"title":null}},
 "size":{"field":"s","type":"nominal","scale":{"domain":["synth. prof.","obs. prof.","vis. front"],"range":[12,132],"padding":0},"legend":{"title":null}}}},
{"data":{"name":"bso"},"mark":{"type":"point","opacity":1,"strokeWidth":2.5},"encoding":{"x":{"field":"x","type":"quantitative","scale":{"domain":[0,1000],"nice":false,"zero":false},"axis":null},"y":{"field":"y","type":"quantitative","scale":{"domain":[0,400],"nice":false},"axis":null},
 "fill":{"field":"s","type":"nominal","scale":{"domain":["synth. prof.","obs. prof.","vis. front"],"range":["black","transparent","transparent"]},"legend":{"title":null}},
 "stroke":{"field":"s","type":"nominal","scale":{"domain":["synth. prof.","obs. prof.","vis. front"],"range":["black","#d95f02","#1048b0"]},"legend":{"title":null}},
 "shape":{"field":"s","type":"nominal","scale":{"domain":["synth. prof.","obs. prof.","vis. front"],"range":["circle","circle","triangle-up"]},"legend":{"title":null}},
 "size":{"field":"s","type":"nominal","scale":{"domain":["synth. prof.","obs. prof.","vis. front"],"range":[12,132],"padding":0},"legend":{"title":null}}}},
{"data":{"name":"bsv"},"mark":{"type":"errorbar","ticks":true,"size":10,"thickness":1.5,"color":"#1048b0"},"encoding":{"x":{"field":"x","type":"quantitative","scale":{"domain":[0,1000],"nice":false,"zero":false},"axis":null},"y":{"field":"lo","type":"quantitative","scale":{"domain":[0,400],"nice":false},"axis":null},"y2":{"field":"hi"}}},
{"data":{"name":"bsv"},"mark":{"type":"point","opacity":1,"strokeWidth":2},"encoding":{"x":{"field":"x","type":"quantitative","scale":{"domain":[0,1000],"nice":false,"zero":false},"axis":null},"y":{"field":"y","type":"quantitative","scale":{"domain":[0,400],"nice":false},"axis":null},
 "fill":{"field":"s","type":"nominal","scale":{"domain":["synth. prof.","obs. prof.","vis. front"],"range":["black","transparent","transparent"]},"legend":{"title":null}},
 "stroke":{"field":"s","type":"nominal","scale":{"domain":["synth. prof.","obs. prof.","vis. front"],"range":["black","#d95f02","#1048b0"]},"legend":{"title":null}},
 "shape":{"field":"s","type":"nominal","scale":{"domain":["synth. prof.","obs. prof.","vis. front"],"range":["circle","circle","triangle-up"]},"legend":{"title":null}},
 "size":{"field":"s","type":"nominal","scale":{"domain":["synth. prof.","obs. prof.","vis. front"],"range":[12,132],"padding":0},"legend":{"title":null}}}}
]},
{"width":583,"height":235,"title":"EUVI-A 195 A profiles (R=1.05-1.1 Rₛ)","resolve":{"axis":{"x":"independent","y":"independent"}},
"layer":[
{"data":{"values":[]},"mark":"point","encoding":{"x":{"field":"x","type":"quantitative","scale":{"domain":[0,1000],"nice":false,"zero":false},"axis":{"orient":"bottom","values":[0,200,400,600,800,1000],"offset":-11,"tickSize":11,"grid":true,"gridDash":[11,3000],"labels":false,"title":null}},"y":{"field":"y","type":"quantitative","scale":{"domain":[0,700],"nice":false},"axis":{"orient":"left","values":[0,100,200,300,400,500,600,700],"offset":-11,"tickSize":11,"grid":true,"gridDash":[11,3000],"labelPadding":8,"labelFlush":true,"title":"speed [km s⁻¹]","titlePadding":10}}}},
{"data":{"values":[]},"mark":"point","encoding":{"x":{"field":"x","type":"quantitative","scale":{"domain":[0,1000],"nice":false,"zero":false},"axis":{"orient":"bottom","values":[0,50,100,150,200,250,300,350,400,450,500,550,600,650,700,750,800,850,900,950,1000],"offset":-5.5,"tickSize":5.5,"grid":true,"gridDash":[5.5,3000],"labels":false,"title":null}},"y":{"field":"y","type":"quantitative","scale":{"domain":[0,700],"nice":false},"axis":{"orient":"left","values":[0,10,20,30,40,50,60,70,80,90,100,110,120,130,140,150,160,170,180,190,200,210,220,230,240,250,260,270,280,290,300,310,320,330,340,350,360,370,380,390,400,410,420,430,440,450,460,470,480,490,500,510,520,530,540,550,560,570,580,590,600,610,620,630,640,650,660,670,680,690,700],"offset":-5.5,"tickSize":5.5,"grid":true,"gridDash":[5.5,3000],"labels":false,"title":null}}}},
{"data":{"values":[]},"mark":"point","encoding":{"x":{"field":"x","type":"quantitative","scale":{"domain":[0,1000],"nice":false,"zero":false},"axis":{"orient":"top","values":[0,200,400,600,800,1000],"offset":-11,"tickSize":11,"grid":true,"gridDash":[11,3000],"labels":false,"title":null}},"y":{"field":"y","type":"quantitative","scale":{"domain":[0,700],"nice":false},"axis":{"orient":"right","values":[0,100,200,300,400,500,600,700],"offset":-11,"tickSize":11,"grid":true,"gridDash":[11,3000],"labels":false,"title":null}}}},
{"data":{"values":[]},"mark":"point","encoding":{"x":{"field":"x","type":"quantitative","scale":{"domain":[0,1000],"nice":false,"zero":false},"axis":{"orient":"top","values":[0,50,100,150,200,250,300,350,400,450,500,550,600,650,700,750,800,850,900,950,1000],"offset":-5.5,"tickSize":5.5,"grid":true,"gridDash":[5.5,3000],"labels":false,"title":null}},"y":{"field":"y","type":"quantitative","scale":{"domain":[0,700],"nice":false},"axis":{"orient":"right","values":[0,10,20,30,40,50,60,70,80,90,100,110,120,130,140,150,160,170,180,190,200,210,220,230,240,250,260,270,280,290,300,310,320,330,340,350,360,370,380,390,400,410,420,430,440,450,460,470,480,490,500,510,520,530,540,550,560,570,580,590,600,610,620,630,640,650,660,670,680,690,700],"offset":-5.5,"tickSize":5.5,"grid":true,"gridDash":[5.5,3000],"labels":false,"title":null}}}},
{"data":{"name":"dash"},"mark":{"type":"rule","strokeDash":[4,4],"color":"#555555","strokeWidth":1.2},"encoding":{"x":{"field":"x","type":"quantitative","scale":{"domain":[0,1000],"nice":false,"zero":false},"axis":null}}},
{"data":{"name":"asm"},"mark":{"type":"line","strokeWidth":1.8,"clip":true,"interpolate":"monotone"},"encoding":{"x":{"field":"x","type":"quantitative","scale":{"domain":[0,1000],"nice":false,"zero":false},"axis":null},"y":{"field":"y","type":"quantitative","scale":{"domain":[0,700],"nice":false},"axis":null},"color":{"datum":"vₘₛ (R=1.05-1.1 Rₛ)","type":"nominal","scale":{"range":["#1b9e77"]},"legend":{"orient":"none","legendX":263,"legendY":188,"title":null,"labelColor":"#1b9e77","symbolSize":3136,"symbolStrokeWidth":2,"labelOffset":7}}}},
{"data":{"name":"asp"},"mark":{"type":"point","opacity":1,"strokeWidth":2},"encoding":{"x":{"field":"x","type":"quantitative","scale":{"domain":[0,1000],"nice":false,"zero":false},"axis":null},"y":{"field":"y","type":"quantitative","scale":{"domain":[0,700],"nice":false},"axis":null},
 "fill":{"field":"s","type":"nominal","scale":{"domain":["synth. prof.","obs. prof.","vis. front"],"range":["black","transparent","transparent"]},"legend":{"title":null,"encoding":{"labels":{"fill":{"condition":[{"test":"datum.label == 'obs. prof.'","value":"#d95f02"},{"test":"datum.label == 'vis. front'","value":"#1048b0"}],"value":"black"}}}}},
 "stroke":{"field":"s","type":"nominal","scale":{"domain":["synth. prof.","obs. prof.","vis. front"],"range":["black","#d95f02","#1048b0"]},"legend":{"title":null}},
 "shape":{"field":"s","type":"nominal","scale":{"domain":["synth. prof.","obs. prof.","vis. front"],"range":["circle","circle","triangle-up"]},"legend":{"title":null}},
 "size":{"field":"s","type":"nominal","scale":{"domain":["synth. prof.","obs. prof.","vis. front"],"range":[12,132],"padding":0},"legend":{"title":null}}}},
{"data":{"name":"aso"},"mark":{"type":"point","opacity":1,"strokeWidth":2.5},"encoding":{"x":{"field":"x","type":"quantitative","scale":{"domain":[0,1000],"nice":false,"zero":false},"axis":null},"y":{"field":"y","type":"quantitative","scale":{"domain":[0,700],"nice":false},"axis":null},
 "fill":{"field":"s","type":"nominal","scale":{"domain":["synth. prof.","obs. prof.","vis. front"],"range":["black","transparent","transparent"]},"legend":{"title":null}},
 "stroke":{"field":"s","type":"nominal","scale":{"domain":["synth. prof.","obs. prof.","vis. front"],"range":["black","#d95f02","#1048b0"]},"legend":{"title":null}},
 "shape":{"field":"s","type":"nominal","scale":{"domain":["synth. prof.","obs. prof.","vis. front"],"range":["circle","circle","triangle-up"]},"legend":{"title":null}},
 "size":{"field":"s","type":"nominal","scale":{"domain":["synth. prof.","obs. prof.","vis. front"],"range":[12,132],"padding":0},"legend":{"title":null}}}},
{"data":{"name":"asv"},"mark":{"type":"errorbar","ticks":true,"size":10,"thickness":1.5,"color":"#1048b0"},"encoding":{"x":{"field":"x","type":"quantitative","scale":{"domain":[0,1000],"nice":false,"zero":false},"axis":null},"y":{"field":"lo","type":"quantitative","scale":{"domain":[0,700],"nice":false},"axis":null},"y2":{"field":"hi"}}},
{"data":{"name":"asv"},"mark":{"type":"point","opacity":1,"strokeWidth":2},"encoding":{"x":{"field":"x","type":"quantitative","scale":{"domain":[0,1000],"nice":false,"zero":false},"axis":null},"y":{"field":"y","type":"quantitative","scale":{"domain":[0,700],"nice":false},"axis":null},
 "fill":{"field":"s","type":"nominal","scale":{"domain":["synth. prof.","obs. prof.","vis. front"],"range":["black","transparent","transparent"]},"legend":{"title":null}},
 "stroke":{"field":"s","type":"nominal","scale":{"domain":["synth. prof.","obs. prof.","vis. front"],"range":["black","#d95f02","#1048b0"]},"legend":{"title":null}},
 "shape":{"field":"s","type":"nominal","scale":{"domain":["synth. prof.","obs. prof.","vis. front"],"range":["circle","circle","triangle-up"]},"legend":{"title":null}},
 "size":{"field":"s","type":"nominal","scale":{"domain":["synth. prof.","obs. prof.","vis. front"],"range":[12,132],"padding":0},"legend":{"title":null}}}}
]},
{"width":583,"height":235,"resolve":{"axis":{"x":"independent","y":"independent"}},
"layer":[
{"data":{"values":[]},"mark":"point","encoding":{"x":{"field":"x","type":"quantitative","scale":{"domain":[0,1000],"nice":false,"zero":false},"axis":{"orient":"bottom","values":[0,200,400,600,800,1000],"offset":-11,"tickSize":11,"grid":true,"gridDash":[11,3000],"labels":false,"title":null}},"y":{"field":"y","type":"quantitative","scale":{"domain":[1,2],"nice":false,"zero":false},"axis":{"orient":"left","values":[1,1.2,1.4,1.6,1.8,2],"format":".1f","offset":-11,"tickSize":11,"grid":true,"gridDash":[11,3000],"labelPadding":8,"labelFlush":true,"title":"intensity ratio","titlePadding":10}}}},
{"data":{"values":[]},"mark":"point","encoding":{"x":{"field":"x","type":"quantitative","scale":{"domain":[0,1000],"nice":false,"zero":false},"axis":{"orient":"bottom","values":[0,50,100,150,200,250,300,350,400,450,500,550,600,650,700,750,800,850,900,950,1000],"offset":-5.5,"tickSize":5.5,"grid":true,"gridDash":[5.5,3000],"labels":false,"title":null}},"y":{"field":"y","type":"quantitative","scale":{"domain":[1,2],"nice":false,"zero":false},"axis":{"orient":"left","values":[1,1.05,1.1,1.15,1.2,1.25,1.3,1.35,1.4,1.45,1.5,1.55,1.6,1.65,1.7,1.75,1.8,1.85,1.9,1.95,2],"offset":-5.5,"tickSize":5.5,"grid":true,"gridDash":[5.5,3000],"labels":false,"title":null}}}},
{"data":{"values":[]},"mark":"point","encoding":{"x":{"field":"x","type":"quantitative","scale":{"domain":[0,1000],"nice":false,"zero":false},"axis":{"orient":"top","values":[0,200,400,600,800,1000],"offset":-11,"tickSize":11,"grid":true,"gridDash":[11,3000],"labels":false,"title":null}},"y":{"field":"y","type":"quantitative","scale":{"domain":[1,2],"nice":false,"zero":false},"axis":{"orient":"right","values":[1,1.2,1.4,1.6,1.8,2],"offset":-11,"tickSize":11,"grid":true,"gridDash":[11,3000],"labels":false,"title":null}}}},
{"data":{"values":[]},"mark":"point","encoding":{"x":{"field":"x","type":"quantitative","scale":{"domain":[0,1000],"nice":false,"zero":false},"axis":{"orient":"top","values":[0,50,100,150,200,250,300,350,400,450,500,550,600,650,700,750,800,850,900,950,1000],"offset":-5.5,"tickSize":5.5,"grid":true,"gridDash":[5.5,3000],"labels":false,"title":null}},"y":{"field":"y","type":"quantitative","scale":{"domain":[1,2],"nice":false,"zero":false},"axis":{"orient":"right","values":[1,1.05,1.1,1.15,1.2,1.25,1.3,1.35,1.4,1.45,1.5,1.55,1.6,1.65,1.7,1.75,1.8,1.85,1.9,1.95,2],"offset":-5.5,"tickSize":5.5,"grid":true,"gridDash":[5.5,3000],"labels":false,"title":null}}}},
{"data":{"name":"bis"},"mark":{"type":"circle","size":30,"color":"black","opacity":1},"encoding":{"x":{"field":"x","type":"quantitative","scale":{"domain":[0,1000],"nice":false,"zero":false},"axis":null},"y":{"field":"y","type":"quantitative","scale":{"domain":[1,2],"nice":false,"zero":false},"axis":null}}},
{"data":{"name":"bio"},"mark":{"type":"point","shape":"circle","filled":false,"size":72,"strokeWidth":2.5,"color":"#d95f02","opacity":1},"encoding":{"x":{"field":"x","type":"quantitative","scale":{"domain":[0,1000],"nice":false,"zero":false},"axis":null},"y":{"field":"y","type":"quantitative","scale":{"domain":[1,2],"nice":false,"zero":false},"axis":null}}}
]},
{"width":583,"height":235,"resolve":{"axis":{"x":"independent","y":"independent"}},
"layer":[
{"data":{"values":[]},"mark":"point","encoding":{"x":{"field":"x","type":"quantitative","scale":{"domain":[0,1000],"nice":false,"zero":false},"axis":{"orient":"bottom","values":[0,200,400,600,800,1000],"offset":-11,"tickSize":11,"grid":true,"gridDash":[11,3000],"labels":false,"title":null}},"y":{"field":"y","type":"quantitative","scale":{"domain":[1,1.5],"nice":false,"zero":false},"axis":{"orient":"left","values":[1,1.1,1.2,1.3,1.4,1.5],"format":".1f","offset":-11,"tickSize":11,"grid":true,"gridDash":[11,3000],"labelPadding":8,"labelFlush":true,"title":"intensity ratio","titlePadding":10}}}},
{"data":{"values":[]},"mark":"point","encoding":{"x":{"field":"x","type":"quantitative","scale":{"domain":[0,1000],"nice":false,"zero":false},"axis":{"orient":"bottom","values":[0,50,100,150,200,250,300,350,400,450,500,550,600,650,700,750,800,850,900,950,1000],"offset":-5.5,"tickSize":5.5,"grid":true,"gridDash":[5.5,3000],"labels":false,"title":null}},"y":{"field":"y","type":"quantitative","scale":{"domain":[1,1.5],"nice":false,"zero":false},"axis":{"orient":"left","values":[1,1.01,1.02,1.03,1.04,1.05,1.06,1.07,1.08,1.09,1.1,1.11,1.12,1.13,1.14,1.15,1.16,1.17,1.18,1.19,1.2,1.21,1.22,1.23,1.24,1.25,1.26,1.27,1.28,1.29,1.3,1.31,1.32,1.33,1.34,1.35,1.36,1.37,1.38,1.39,1.4,1.41,1.42,1.43,1.44,1.45,1.46,1.47,1.48,1.49,1.5],"offset":-5.5,"tickSize":5.5,"grid":true,"gridDash":[5.5,3000],"labels":false,"title":null}}}},
{"data":{"values":[]},"mark":"point","encoding":{"x":{"field":"x","type":"quantitative","scale":{"domain":[0,1000],"nice":false,"zero":false},"axis":{"orient":"top","values":[0,200,400,600,800,1000],"offset":-11,"tickSize":11,"grid":true,"gridDash":[11,3000],"labels":false,"title":null}},"y":{"field":"y","type":"quantitative","scale":{"domain":[1,1.5],"nice":false,"zero":false},"axis":{"orient":"right","values":[1,1.1,1.2,1.3,1.4,1.5],"offset":-11,"tickSize":11,"grid":true,"gridDash":[11,3000],"labels":false,"title":null}}}},
{"data":{"values":[]},"mark":"point","encoding":{"x":{"field":"x","type":"quantitative","scale":{"domain":[0,1000],"nice":false,"zero":false},"axis":{"orient":"top","values":[0,50,100,150,200,250,300,350,400,450,500,550,600,650,700,750,800,850,900,950,1000],"offset":-5.5,"tickSize":5.5,"grid":true,"gridDash":[5.5,3000],"labels":false,"title":null}},"y":{"field":"y","type":"quantitative","scale":{"domain":[1,1.5],"nice":false,"zero":false},"axis":{"orient":"right","values":[1,1.01,1.02,1.03,1.04,1.05,1.06,1.07,1.08,1.09,1.1,1.11,1.12,1.13,1.14,1.15,1.16,1.17,1.18,1.19,1.2,1.21,1.22,1.23,1.24,1.25,1.26,1.27,1.28,1.29,1.3,1.31,1.32,1.33,1.34,1.35,1.36,1.37,1.38,1.39,1.4,1.41,1.42,1.43,1.44,1.45,1.46,1.47,1.48,1.49,1.5],"offset":-5.5,"tickSize":5.5,"grid":true,"gridDash":[5.5,3000],"labels":false,"title":null}}}},
{"data":{"name":"dash"},"mark":{"type":"rule","strokeDash":[4,4],"color":"#555555","strokeWidth":1.2},"encoding":{"x":{"field":"x","type":"quantitative","scale":{"domain":[0,1000],"nice":false,"zero":false},"axis":null}}},
{"data":{"name":"ais"},"mark":{"type":"circle","size":30,"color":"black","opacity":1},"encoding":{"x":{"field":"x","type":"quantitative","scale":{"domain":[0,1000],"nice":false,"zero":false},"axis":null},"y":{"field":"y","type":"quantitative","scale":{"domain":[1,1.5],"nice":false,"zero":false},"axis":null}}},
{"data":{"name":"aio"},"mark":{"type":"point","shape":"circle","filled":false,"size":72,"strokeWidth":2.5,"color":"#d95f02","opacity":1},"encoding":{"x":{"field":"x","type":"quantitative","scale":{"domain":[0,1000],"nice":false,"zero":false},"axis":null},"y":{"field":"y","type":"quantitative","scale":{"domain":[1,1.5],"nice":false,"zero":false},"axis":null}}}
]},
{"width":583,"height":235,"resolve":{"axis":{"x":"independent","y":"independent"}},
"layer":[
{"data":{"values":[]},"mark":"point","encoding":{"x":{"field":"x","type":"quantitative","scale":{"domain":[0,1000],"nice":false,"zero":false},"axis":{"orient":"bottom","values":[0,200,400,600,800,1000],"format":"d","offset":-11,"tickSize":11,"grid":true,"gridDash":[11,3000],"labelPadding":9,"title":"distance [Mm]","titlePadding":3}},"y":{"field":"y","type":"quantitative","scale":{"domain":[0,250],"nice":false},"axis":{"orient":"left","values":[0,50,100,150,200,250],"offset":-11,"tickSize":11,"grid":true,"gridDash":[11,3000],"labelPadding":8,"labelFlush":true,"title":"FWHM width [Mm]","titlePadding":10}}}},
{"data":{"values":[]},"mark":"point","encoding":{"x":{"field":"x","type":"quantitative","scale":{"domain":[0,1000],"nice":false,"zero":false},"axis":{"orient":"bottom","values":[0,50,100,150,200,250,300,350,400,450,500,550,600,650,700,750,800,850,900,950,1000],"offset":-5.5,"tickSize":5.5,"grid":true,"gridDash":[5.5,3000],"labels":false,"title":null}},"y":{"field":"y","type":"quantitative","scale":{"domain":[0,250],"nice":false},"axis":{"orient":"left","values":[0,10,20,30,40,50,60,70,80,90,100,110,120,130,140,150,160,170,180,190,200,210,220,230,240,250],"offset":-5.5,"tickSize":5.5,"grid":true,"gridDash":[5.5,3000],"labels":false,"title":null}}}},
{"data":{"values":[]},"mark":"point","encoding":{"x":{"field":"x","type":"quantitative","scale":{"domain":[0,1000],"nice":false,"zero":false},"axis":{"orient":"top","values":[0,200,400,600,800,1000],"offset":-11,"tickSize":11,"grid":true,"gridDash":[11,3000],"labels":false,"title":null}},"y":{"field":"y","type":"quantitative","scale":{"domain":[0,250],"nice":false},"axis":{"orient":"right","values":[0,50,100,150,200,250],"offset":-11,"tickSize":11,"grid":true,"gridDash":[11,3000],"labels":false,"title":null}}}},
{"data":{"values":[]},"mark":"point","encoding":{"x":{"field":"x","type":"quantitative","scale":{"domain":[0,1000],"nice":false,"zero":false},"axis":{"orient":"top","values":[0,50,100,150,200,250,300,350,400,450,500,550,600,650,700,750,800,850,900,950,1000],"offset":-5.5,"tickSize":5.5,"grid":true,"gridDash":[5.5,3000],"labels":false,"title":null}},"y":{"field":"y","type":"quantitative","scale":{"domain":[0,250],"nice":false},"axis":{"orient":"right","values":[0,10,20,30,40,50,60,70,80,90,100,110,120,130,140,150,160,170,180,190,200,210,220,230,240,250],"offset":-5.5,"tickSize":5.5,"grid":true,"gridDash":[5.5,3000],"labels":false,"title":null}}}},
{"data":{"name":"bws"},"mark":{"type":"circle","size":30,"color":"black","opacity":1},"encoding":{"x":{"field":"x","type":"quantitative","scale":{"domain":[0,1000],"nice":false,"zero":false},"axis":null},"y":{"field":"y","type":"quantitative","scale":{"domain":[0,250],"nice":false},"axis":null}}},
{"data":{"name":"bwo"},"mark":{"type":"point","shape":"circle","filled":false,"size":72,"strokeWidth":2.5,"color":"#d95f02","opacity":1},"encoding":{"x":{"field":"x","type":"quantitative","scale":{"domain":[0,1000],"nice":false,"zero":false},"axis":null},"y":{"field":"y","type":"quantitative","scale":{"domain":[0,250],"nice":false},"axis":null}}}
]},
{"width":583,"height":235,"resolve":{"axis":{"x":"independent","y":"independent"}},
"layer":[
{"data":{"values":[]},"mark":"point","encoding":{"x":{"field":"x","type":"quantitative","scale":{"domain":[0,1000],"nice":false,"zero":false},"axis":{"orient":"bottom","values":[0,200,400,600,800,1000],"format":"d","offset":-11,"tickSize":11,"grid":true,"gridDash":[11,3000],"labelPadding":9,"title":"distance [Mm]","titlePadding":3}},"y":{"field":"y","type":"quantitative","scale":{"domain":[0,250],"nice":false},"axis":{"orient":"left","values":[0,50,100,150,200,250],"offset":-11,"tickSize":11,"grid":true,"gridDash":[11,3000],"labelPadding":8,"labelFlush":true,"title":"FWHM width [Mm]","titlePadding":10}}}},
{"data":{"values":[]},"mark":"point","encoding":{"x":{"field":"x","type":"quantitative","scale":{"domain":[0,1000],"nice":false,"zero":false},"axis":{"orient":"bottom","values":[0,50,100,150,200,250,300,350,400,450,500,550,600,650,700,750,800,850,900,950,1000],"offset":-5.5,"tickSize":5.5,"grid":true,"gridDash":[5.5,3000],"labels":false,"title":null}},"y":{"field":"y","type":"quantitative","scale":{"domain":[0,250],"nice":false},"axis":{"orient":"left","values":[0,10,20,30,40,50,60,70,80,90,100,110,120,130,140,150,160,170,180,190,200,210,220,230,240,250],"offset":-5.5,"tickSize":5.5,"grid":true,"gridDash":[5.5,3000],"labels":false,"title":null}}}},
{"data":{"values":[]},"mark":"point","encoding":{"x":{"field":"x","type":"quantitative","scale":{"domain":[0,1000],"nice":false,"zero":false},"axis":{"orient":"top","values":[0,200,400,600,800,1000],"offset":-11,"tickSize":11,"grid":true,"gridDash":[11,3000],"labels":false,"title":null}},"y":{"field":"y","type":"quantitative","scale":{"domain":[0,250],"nice":false},"axis":{"orient":"right","values":[0,50,100,150,200,250],"offset":-11,"tickSize":11,"grid":true,"gridDash":[11,3000],"labels":false,"title":null}}}},
{"data":{"values":[]},"mark":"point","encoding":{"x":{"field":"x","type":"quantitative","scale":{"domain":[0,1000],"nice":false,"zero":false},"axis":{"orient":"top","values":[0,50,100,150,200,250,300,350,400,450,500,550,600,650,700,750,800,850,900,950,1000],"offset":-5.5,"tickSize":5.5,"grid":true,"gridDash":[5.5,3000],"labels":false,"title":null}},"y":{"field":"y","type":"quantitative","scale":{"domain":[0,250],"nice":false},"axis":{"orient":"right","values":[0,10,20,30,40,50,60,70,80,90,100,110,120,130,140,150,160,170,180,190,200,210,220,230,240,250],"offset":-5.5,"tickSize":5.5,"grid":true,"gridDash":[5.5,3000],"labels":false,"title":null}}}},
{"data":{"name":"dash"},"mark":{"type":"rule","strokeDash":[4,4],"color":"#555555","strokeWidth":1.2},"encoding":{"x":{"field":"x","type":"quantitative","scale":{"domain":[0,1000],"nice":false,"zero":false},"axis":null}}},
{"data":{"name":"aws"},"mark":{"type":"circle","size":30,"color":"black","opacity":1},"encoding":{"x":{"field":"x","type":"quantitative","scale":{"domain":[0,1000],"nice":false,"zero":false},"axis":null},"y":{"field":"y","type":"quantitative","scale":{"domain":[0,250],"nice":false},"axis":null}}},
{"data":{"name":"awo"},"mark":{"type":"point","shape":"circle","filled":false,"size":72,"strokeWidth":2.5,"color":"#d95f02","opacity":1},"encoding":{"x":{"field":"x","type":"quantitative","scale":{"domain":[0,1000],"nice":false,"zero":false},"axis":null},"y":{"field":"y","type":"quantitative","scale":{"domain":[0,250],"nice":false},"axis":null}}}
]}
]
}
